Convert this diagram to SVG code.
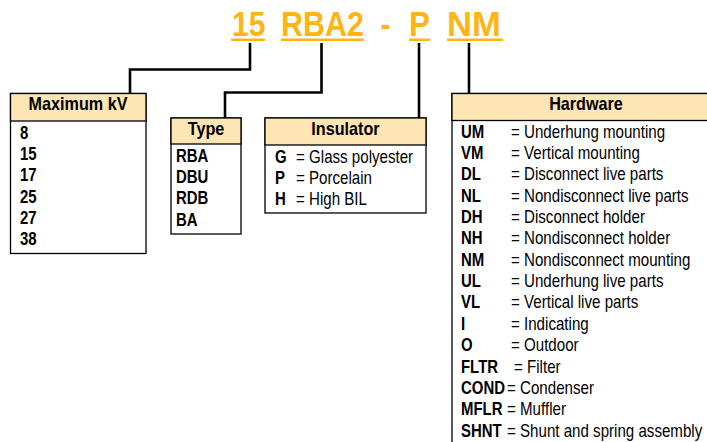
<svg xmlns="http://www.w3.org/2000/svg" width="707" height="442" viewBox="0 0 707 442">
<style>
text{font-family:"Liberation Sans",Arial,sans-serif;fill:#000}
.code{font-weight:bold;font-size:35px;fill:#FDB515}
.ul{fill:#FDB515}
.box{fill:#fff;stroke:#000;stroke-width:1.3}
.hdr{fill:#FDE6B3;stroke:#000;stroke-width:1.3}
.ht{font-weight:bold;font-size:17.5px;text-anchor:middle}
.k{font-weight:bold;font-size:18px}
.t{font-size:18px}
.conn{fill:none;stroke:#000;stroke-width:2.6}
</style>
<g id="code">
<text class="code" transform="translate(232,36) scale(0.86,1)">15</text>
<rect class="ul" x="231" y="38.5" width="34" height="2.5"/>
<text class="code" transform="translate(281,36) scale(0.87,1)">RBA2</text>
<rect class="ul" x="281" y="38.5" width="83" height="2.5"/>
<text class="code" transform="translate(380.5,36) scale(0.86,1)">-</text>
<text class="code" transform="translate(409,36) scale(0.9,1)">P</text>
<rect class="ul" x="409" y="38.5" width="21" height="2.5"/>
<text class="code" transform="translate(447,36) scale(0.99,1)">NM</text>
<rect class="ul" x="447" y="38.5" width="56" height="2.5"/>
</g>
<g id="connectors">
<polyline class="conn" points="250,43 250,69.5 130,69.5 130,93"/>
<polyline class="conn" points="321.5,43 321.5,92.5 225,92.5 225,118"/>
<polyline class="conn" points="419,43 419,118"/>
<polyline class="conn" points="469,43 469,93"/>
</g>
<g id="maxkv">
<rect class="box" x="10.5" y="93.5" width="135.5" height="160"/>
<rect class="hdr" x="10.5" y="93.5" width="135.5" height="27.5"/>
<text class="ht" transform="translate(78,110) scale(0.925,1)">Maximum kV</text>
<text class="k" transform="translate(20,138.5) scale(0.83,1)">8</text>
<text class="k" transform="translate(20,159.9) scale(0.83,1)">15</text>
<text class="k" transform="translate(20,181.2) scale(0.83,1)">17</text>
<text class="k" transform="translate(20,202.6) scale(0.83,1)">25</text>
<text class="k" transform="translate(20,224) scale(0.83,1)">27</text>
<text class="k" transform="translate(20,245.3) scale(0.83,1)">38</text>
</g>
<g id="type">
<rect class="box" x="171" y="118" width="70" height="116"/>
<rect class="hdr" x="171" y="118" width="70" height="26"/>
<text class="ht" transform="translate(206,135) scale(0.925,1)">Type</text>
<text class="k" transform="translate(176,161.5) scale(0.83,1)">RBA</text>
<text class="k" transform="translate(176,182.9) scale(0.83,1)">DBU</text>
<text class="k" transform="translate(176,204.2) scale(0.83,1)">RDB</text>
<text class="k" transform="translate(176,225.6) scale(0.83,1)">BA</text>
</g>
<g id="insulator">
<rect class="box" x="265" y="118" width="161" height="95"/>
<rect class="hdr" x="265" y="118" width="161" height="27"/>
<text class="ht" transform="translate(345.5,135) scale(0.925,1)">Insulator</text>
<text class="k" transform="translate(275,162.5) scale(0.83,1)">G</text><text class="t" transform="translate(296,162.5) scale(0.84,1)">= Glass polyester</text>
<text class="k" transform="translate(275,183.9) scale(0.83,1)">P</text><text class="t" transform="translate(296,183.9) scale(0.84,1)">= Porcelain</text>
<text class="k" transform="translate(275,205.2) scale(0.83,1)">H</text><text class="t" transform="translate(296,205.2) scale(0.84,1)">= High BIL</text>
</g>
<g id="hardware">
<rect class="box" x="452" y="93.5" width="267" height="360"/>
<rect class="hdr" x="452" y="93.5" width="267" height="27"/>
<text class="ht" transform="translate(586,110) scale(0.925,1)">Hardware</text>
<text class="k" transform="translate(461,137.5) scale(0.83,1)">UM</text><text class="t" transform="translate(511,137.5) scale(0.84,1)">= Underhung mounting</text>
<text class="k" transform="translate(461,158.9) scale(0.83,1)">VM</text><text class="t" transform="translate(511,158.9) scale(0.84,1)">= Vertical mounting</text>
<text class="k" transform="translate(461,180.2) scale(0.83,1)">DL</text><text class="t" transform="translate(511,180.2) scale(0.84,1)">= Disconnect live parts</text>
<text class="k" transform="translate(461,201.6) scale(0.83,1)">NL</text><text class="t" transform="translate(511,201.6) scale(0.84,1)">= Nondisconnect live parts</text>
<text class="k" transform="translate(461,222.9) scale(0.83,1)">DH</text><text class="t" transform="translate(511,222.9) scale(0.84,1)">= Disconnect holder</text>
<text class="k" transform="translate(461,244.3) scale(0.83,1)">NH</text><text class="t" transform="translate(511,244.3) scale(0.84,1)">= Nondisconnect holder</text>
<text class="k" transform="translate(461,265.7) scale(0.83,1)">NM</text><text class="t" transform="translate(511,265.7) scale(0.84,1)">= Nondisconnect mounting</text>
<text class="k" transform="translate(461,287) scale(0.83,1)">UL</text><text class="t" transform="translate(511,287) scale(0.84,1)">= Underhung live parts</text>
<text class="k" transform="translate(461,308.4) scale(0.83,1)">VL</text><text class="t" transform="translate(511,308.4) scale(0.84,1)">= Vertical live parts</text>
<text class="k" transform="translate(461,329.7) scale(0.83,1)">I</text><text class="t" transform="translate(511,329.7) scale(0.84,1)">= Indicating</text>
<text class="k" transform="translate(461,351.1) scale(0.83,1)">O</text><text class="t" transform="translate(511,351.1) scale(0.84,1)">= Outdoor</text>
<text class="k" transform="translate(461,372.5) scale(0.83,1)">FLTR</text><text class="t" transform="translate(514,372.5) scale(0.84,1)">= Filter</text>
<text class="k" transform="translate(461,393.8) scale(0.83,1)">COND</text><text class="t" transform="translate(507,393.8) scale(0.84,1)">= Condenser</text>
<text class="k" transform="translate(461,415.2) scale(0.83,1)">MFLR</text><text class="t" transform="translate(507,415.2) scale(0.84,1)">= Muffler</text>
<text class="k" transform="translate(461,436.5) scale(0.83,1)">SHNT</text><text class="t" transform="translate(507,436.5) scale(0.84,1)">= Shunt and spring assembly</text>
</g>
</svg>
